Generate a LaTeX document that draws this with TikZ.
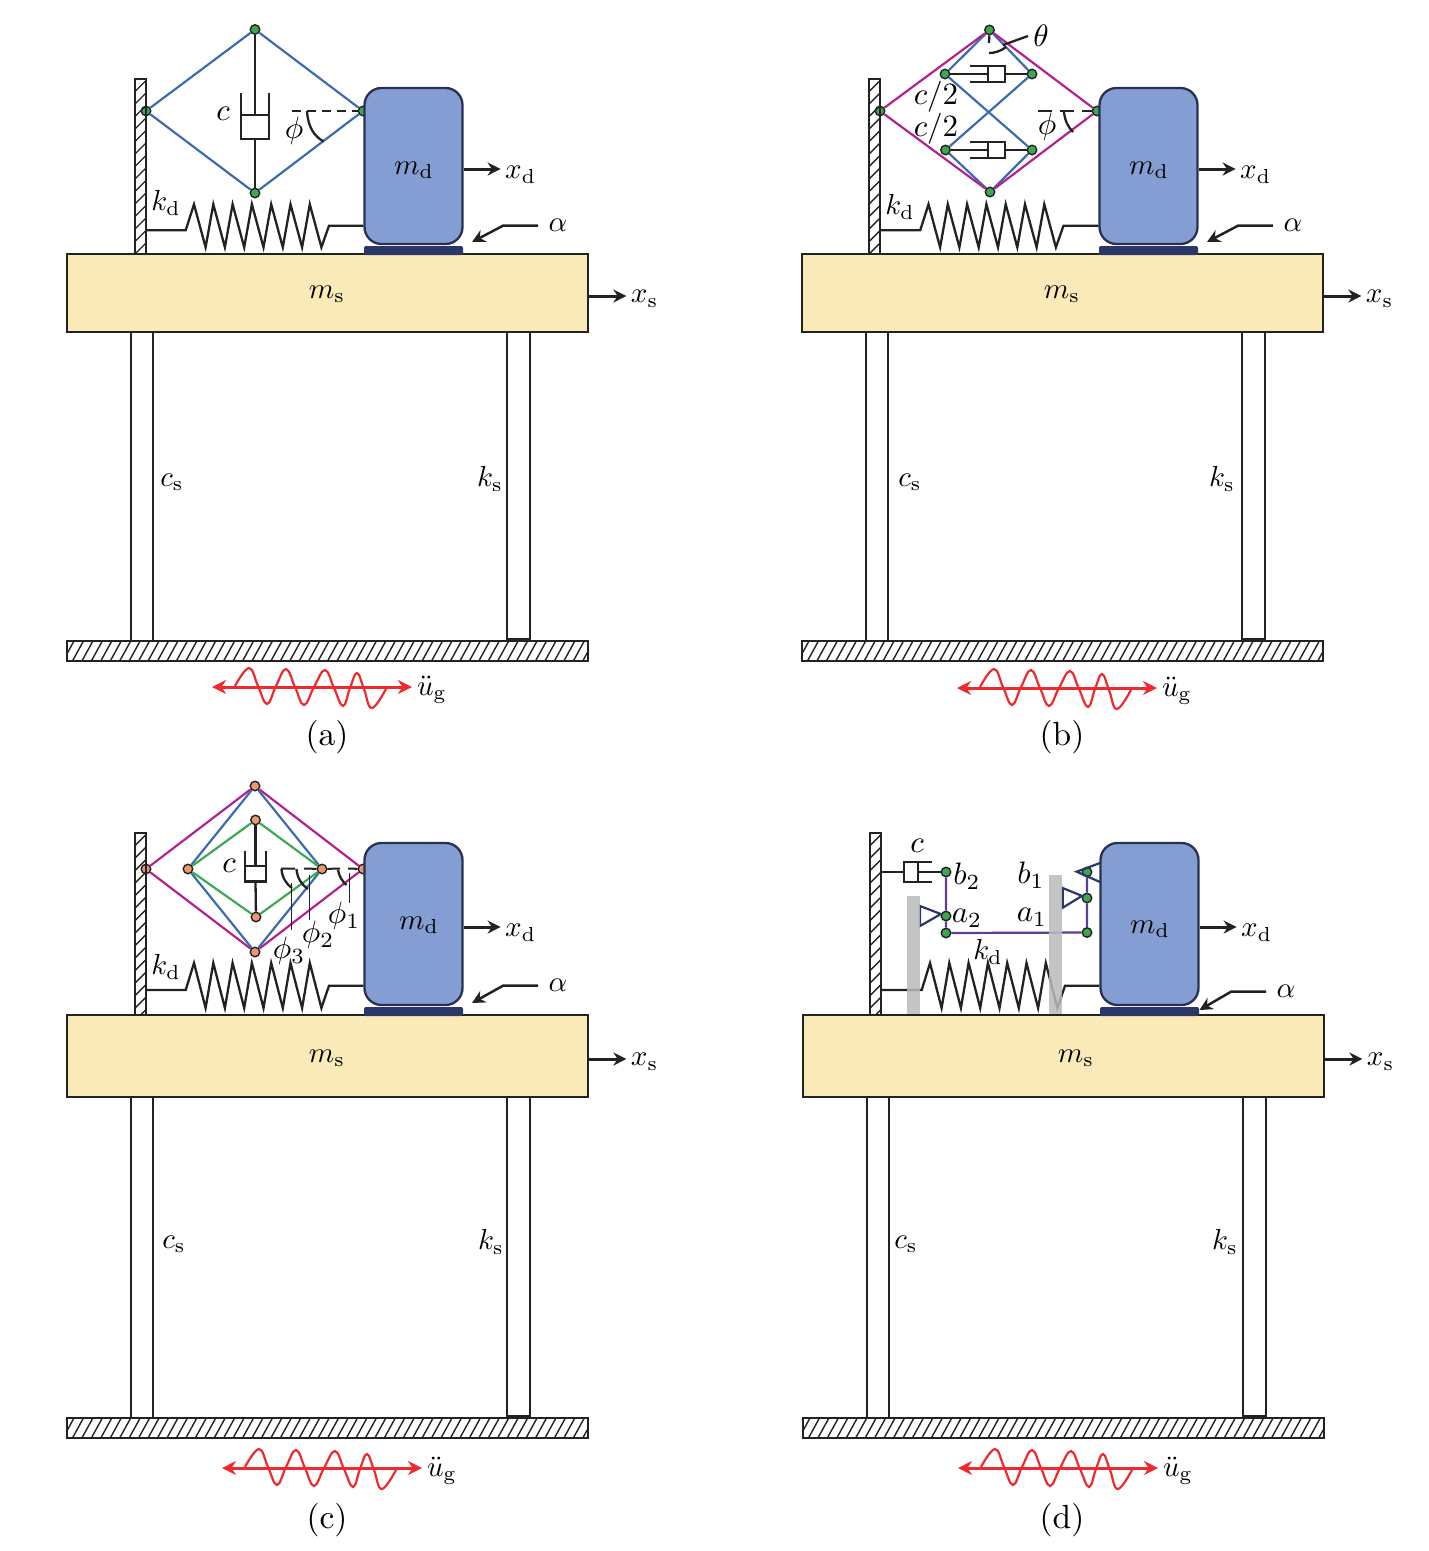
\documentclass[tikz,border=0pt]{standalone}
\usetikzlibrary{arrows.meta,positioning}

\definecolor{inkdark}{HTML}{222222}
\definecolor{massblue}{HTML}{849DD2}
\definecolor{massedge}{HTML}{2A3050}
\definecolor{padnavy}{HTML}{2B3768}
\definecolor{deckyellow}{HTML}{FAEAB8}
\definecolor{linkblue}{HTML}{3B6CB0}
\definecolor{linkmagenta}{HTML}{B5218E}
\definecolor{linkgreen}{HTML}{3DAA4F}
\definecolor{linkpurple}{HTML}{5E3C99}
\definecolor{jointgreen}{HTML}{3FA650}
\definecolor{jointorange}{HTML}{E9986F}
\definecolor{waved}{HTML}{EE2A2E}

\tikzset{
  lab/.style={scale=2.9, transform shape},
  biglab/.style={scale=3.1, transform shape},
  caplab/.style={scale=3.35, transform shape},
  wire/.style={draw=inkdark, line width=2.3pt},
  thinwire/.style={draw=inkdark, line width=1.4pt},
  dashwire/.style={draw=inkdark, line width=2pt, dash pattern=on 9pt off 6pt},
  joint/.style={circle, draw=inkdark, line width=1.4pt, fill=jointgreen, minimum size=9.5pt, inner sep=0pt},
  jointb/.style={joint, fill=jointorange},
  linkb/.style={draw=linkblue, line width=2.2pt},
  linkm/.style={draw=linkmagenta, line width=2.2pt},
  linkg/.style={draw=linkgreen, line width=2.2pt},
  linkp/.style={draw=linkpurple, line width=2.2pt},
  wedge/.style={draw=padnavy, line width=2.2pt},
  motion/.style={draw=inkdark, line width=3pt, -{Stealth[length=13pt,width=13pt]}},
  waveaxis/.style={draw=waved, line width=3pt, {Stealth[length=14pt,width=14pt]}-{Stealth[length=14pt,width=14pt]}},
  wavecurve/.style={draw=waved, line width=2.2pt},
  greybar/.style={fill=black!27, opacity=.85},
}

% wall with hatching: name, x1, y1, x2, y2
\newcommand{\hatchwall}[5]{
  \node[thinwire, minimum width={(#4-#2)*1pt}, minimum height={(#5-#3)*1pt}] (#1wall) at ({(#2+#4)/2},{(#3+#5)/2}) {};
  \begin{scope}
    \clip (#2,#3) rectangle (#4,#5);
    \foreach \k in {1,...,15}
      \draw[thinwire] (#2,{#3+12.5*\k}) -- (#4,{#3+12.5*\k-11});
  \end{scope}
}

% deck, columns, ground, mass: name, dx, deck top, deck bottom, ground top, mass top, mass bottom
\newcommand{\storyframe}[7]{
  \begin{scope}[shift={(#2,0)}]
    \node[wire, fill=deckyellow, minimum width=521.5pt, minimum height={(#4-#3)*1pt}] (#1ms) at (327.5,{(#3+#4)/2}) {};
    \draw[wire] (131,#4) rectangle (153,#5);
    \draw[wire] (507,#4) rectangle (530,{#5-2});
    \node[thinwire, minimum width=521pt, minimum height=20pt] (#1gd) at (327.5,{#5+10}) {};
    \begin{scope}
      \clip (67,#5) rectangle (588,{#5+20});
      \foreach \k in {0,...,55}
        \draw[thinwire] ({67+9.45*\k-4},{#5+20}) -- ({67+9.45*\k+7},#5);
    \end{scope}
    \fill[padnavy, rounded corners=2pt] (364,{#7+2}) rectangle (463,{#3+1});
    \node[draw=massedge, line width=2.3pt, fill=massblue, rounded corners=17pt, minimum width=98pt, minimum height={(#7-#6)*1pt}] (#1md) at (413.5,{(#6+#7)/2}) {};
    \coordinate (#1xd) at ([xshift=37pt,yshift=-3pt]#1md.east);
    \draw[motion] ([yshift=-3pt]#1md.east) -- (#1xd);
    \node[lab, right=4pt of #1xd, yshift=-2pt] (#1xdl) {$x_{\mathrm{d}}$};
    \coordinate (#1xs) at ([xshift=37pt,yshift=-3pt]#1ms.east);
    \draw[motion] ([yshift=-3pt]#1ms.east) -- (#1xs);
    \node[lab, right=4pt of #1xs, yshift=-1pt] (#1xsl) {$x_{\mathrm{s}}$};
  \end{scope}
}

% spring from wall to mass: name, first peak x, y left, y right, y top, y bottom
\newcommand{\zigspring}[6]{
  \coordinate (#1sl) at ({#2-8.3},#3);
  \coordinate (#1sr) at ({#2+135},#4);
  \draw[wire] (#1wall.east |- #1sl) -- (#1sl)
    \foreach \k in {0,...,6} {-- ({#2+19.3*\k},#5) -- ({#2+11.6+19.3*\k},#6)}
    -- (#1sr) -- (#1md.west |- #1sr);
}

% leader to the base pad: name, tip x, tip y, knee x, knee y, end x
\newcommand{\alphamark}[6]{
  \coordinate (#1at) at (#2,#3);
  \coordinate (#1ak) at (#4,#5);
  \coordinate (#1ae) at (#6,#5);
  \draw[motion, line width=2.5pt] (#1ae) -- (#1ak) -- (#1at);
  \node[lab, right=10pt of #1ae] (#1al) {$\alpha$};
}

% ground acceleration: name, shift x, shift y
\newcommand{\groundwave}[3]{
  \begin{scope}[shift={(#2,#3)}]
    \coordinate (#1gl) at (212,687);
    \coordinate (#1gr) at (412,687);
    \draw[waveaxis] (#1gl) -- (#1gr);
    \draw[wavecurve] plot[smooth, tension=.7] coordinates {(235,686) (249,668) (258,686) (267,704) (276,686) (286,669) (295,687) (304,705) (314,687) (325,670) (334,688) (343,706) (350,688) (357,673) (364,689) (372,708) (387,687)};
    \node[lab] (#1gu) at (432,690) {$\ddot{u}_{\mathrm{g}}$};
  \end{scope}
}

% vertical damper: name, x, y top, y piston, y bottom, half width
\newcommand{\cylv}[6]{
  \coordinate (#1p) at (#2,#4);
  \coordinate (#1b) at (#2,#5);
  \draw[wire] ({#2-#6},#3) -- ({#2-#6},#5) -- ({#2+#6},#5) -- ({#2+#6},#3);
  \draw[wire] ({#2-#6},#4) -- ({#2+#6},#4);
}

% horizontal damper: name, x open end, x piston, x closed end, y, half height
\newcommand{\cylh}[6]{
  \coordinate (#1p) at (#3,#5);
  \coordinate (#1b) at (#4,#5);
  \draw[wire] (#2,{#5-#6}) -- (#4,{#5-#6}) -- (#4,{#5+#6}) -- (#2,{#5+#6});
  \draw[wire] (#3,{#5-#6}) -- (#3,{#5+#6});
}

\begin{document}
\begin{tikzpicture}[x=1pt, y=-1pt, every node/.style={inner sep=0pt}]
  \useasboundingbox (0,0) rectangle (1428,1551);

  % (a)
  \node[joint] (atop) at (255,29.5) {};
  \node[joint] (alft) at (146,111) {};
  \node[joint] (abot) at (255,193) {};
  \node[joint] (arig) at (363,111) {};
  \draw[linkb] (atop) -- (alft) -- (abot) -- (arig) -- (atop);
  \cylv{ac}{255}{93}{115}{139}{14}
  \draw[wire] (atop) -- (acp);
  \draw[wire] (acb) -- (abot);
  \draw[dashwire] (292,111) -- (arig);
  \draw[wire] (307,111) .. controls (308,127) and (314,136) .. (323.5,141.5);
  \hatchwall{a}{135}{79}{146}{254}
  \storyframe{a}{0}{254}{332}{641}{88}{244}
  \zigspring{a}{194}{230.3}{225.7}{204.3}{247.3}
  \alphamark{a}{472}{242}{503}{225.7}{538}
  \groundwave{a}{0}{0}
  \node[biglab] (ac) at (223,114) {$c$};
  \node[biglab] (aphi) at (294,131) {$\phi$};
  \node[lab] (akd) at (166,203) {$k_{\mathrm{d}}$};
  \node[lab] (amdl) at (414,170) {$m_{\mathrm{d}}$};
  \node[lab] (amsl) at (327,294) {$m_{\mathrm{s}}$};
  \node[lab] (acs) at (172,482) {$c_{\mathrm{s}}$};
  \node[lab] (aks) at (490,479) {$k_{\mathrm{s}}$};
  \node[caplab] (acap) at (327,737) {(a)};

  % (b)
  \node[joint] (btop) at (989.5,30) {};
  \node[joint] (blft) at (880,111) {};
  \node[joint] (bbot) at (990,192) {};
  \node[joint] (brig) at (1097,111) {};
  \node[joint] (bul) at (945,74) {};
  \node[joint] (bur) at (1032,74) {};
  \node[joint] (bll) at (945.5,150) {};
  \node[joint] (blr) at (1032,150) {};
  \draw[linkb] (btop) -- (bul) -- (blr) -- (bbot) -- (bll) -- (bur) -- (btop);
  \draw[linkm] (btop) -- (blft) -- (bbot) -- (brig) -- (btop);
  \cylh{bd}{970}{988}{1005}{74}{8}
  \cylh{be}{970}{988}{1005}{150}{8}
  \draw[wire] (bul) -- (bdp);
  \draw[wire] (bdb) -- (bur);
  \draw[wire] (bll) -- (bep);
  \draw[wire] (beb) -- (blr);
  \draw[dashwire, dash pattern=on 14pt off 8pt] (1038,111) -- (brig);
  \draw[wire] (1064,112) .. controls (1065,121) and (1068,127) .. (1073,132);
  \coordinate (bty) at (989,43);
  \draw[wire] (btop) -- (bty);
  \draw[wire] (989,53) .. controls (995,53) and (1001,51) .. (1006,47);
  \draw[wire] (1003,45) -- (1028,36);
  \hatchwall{b}{869}{79}{880}{254}
  \storyframe{b}{735}{254}{332}{641}{88}{244}
  \zigspring{b}{928.5}{230.3}{225.7}{204.3}{247.3}
  \alphamark{b}{1207}{242}{1238}{225.7}{1273}
  \groundwave{b}{745}{1}
  \node[biglab] (bth) at (1041,36) {$\theta$};
  \node[biglab] (bc1) at (936,97) {$c/2$};
  \node[biglab] (bc2) at (936,129) {$c/2$};
  \node[biglab] (bphi) at (1047,127) {$\phi$};
  \node[lab] (bkd) at (900,207) {$k_{\mathrm{d}}$};
  \node[lab] (bmdl) at (1149,170) {$m_{\mathrm{d}}$};
  \node[lab] (bmsl) at (1062,294) {$m_{\mathrm{s}}$};
  \node[lab] (bcs) at (910,482) {$c_{\mathrm{s}}$};
  \node[lab] (bks) at (1222,479) {$k_{\mathrm{s}}$};
  \node[caplab] (bcap) at (1062,737) {(b)};

  % (c)
  \node[jointb] (ctop) at (255,786) {};
  \node[jointb] (clft) at (146,869) {};
  \node[jointb] (cbot) at (255,952) {};
  \node[jointb] (crig) at (363,869) {};
  \node[jointb] (cil) at (188,869) {};
  \node[jointb] (cir) at (322,869) {};
  \node[jointb] (cgt) at (255.5,820) {};
  \node[jointb] (cgb) at (256,917) {};
  \draw[linkm] (ctop) -- (clft) -- (cbot) -- (crig) -- (ctop);
  \draw[linkb] (ctop) -- (cil) -- (cbot) -- (cir) -- (ctop);
  \draw[linkg] (cgt) -- (cil) -- (cgb) -- (cir) -- (cgt);
  \cylv{cc}{255.5}{851}{866}{881.5}{10.5}
  \draw[wire] (cgt) -- (ccp);
  \draw[wire] (ccb) -- (cgb);
  \draw[wire, line width=2pt] (281,868.5) -- (295,868.5) (304,868.5) -- (cir);
  \draw[wire, line width=2pt] (cir) -- (340,868.5) (348,868.5) -- (crig);
  \draw[wire] (281.5,869) .. controls (282,877) and (286,884) .. (292,888);
  \draw[wire] (296.5,869) .. controls (297,878) and (302,885) .. (308,889);
  \draw[wire] (338,870) .. controls (339,876) and (342,881) .. (346.5,885);
  \draw[thinwire] (291.7,883) -- (291.7,930);
  \draw[thinwire] (309.3,875) -- (309.3,920);
  \draw[thinwire] (349.3,873) -- (349.3,903);
  \hatchwall{c}{135}{833}{146}{1015}
  \storyframe{c}{0}{1015}{1097}{1418}{843}{1005}
  \zigspring{c}{194}{990}{985.7}{963}{1008}
  \alphamark{c}{472}{1003}{503}{985.7}{538}
  \groundwave{c}{10}{781}
  \node[biglab] (cc) at (229,866) {$c$};
  \node[biglab] (cp3) at (289,951) {$\phi_{3}$};
  \node[biglab] (cp2) at (318,935) {$\phi_{2}$};
  \node[biglab] (cp1) at (344,916) {$\phi_{1}$};
  \node[lab] (ckd) at (166,967) {$k_{\mathrm{d}}$};
  \node[lab] (cmdl) at (419,925) {$m_{\mathrm{d}}$};
  \node[lab] (cmsl) at (327,1058) {$m_{\mathrm{s}}$};
  \node[lab] (ccs) at (174,1244) {$c_{\mathrm{s}}$};
  \node[lab] (cks) at (491,1242) {$k_{\mathrm{s}}$};
  \node[caplab] (ccap) at (327,1520) {(c)};

  % (d)
  \hatchwall{d}{870}{833}{881}{1015}
  \storyframe{d}{736}{1015}{1097}{1418}{843}{1005}
  \node[joint] (db2) at (946,872) {};
  \node[joint] (da2) at (946,916) {};
  \node[joint] (dbl) at (946,933) {};
  \node[joint] (dbr) at (1087,932.5) {};
  \node[joint] (da1) at (1087,898) {};
  \node[joint] (db1) at (1087,872) {};
  \draw[linkp] (db2) -- (da2) -- (dbl) -- (dbr) -- (da1) -- (db1);
  \cylh{dc}{932}{918}{904}{872}{10}
  \draw[wire] (dcp) -- (db2);
  \draw[wire] (dwall.east |- dcb) -- (dcb);
  \draw[wedge] (da2) -- (920,906) -- (920,926) -- cycle;
  \draw[wedge] (da1) -- (1062.7,888) -- (1062.7,907.7) -- cycle;
  \draw[wedge] (1100,863) -- (1076.7,871.7) -- (1100,882);
  \zigspring{d}{930}{990}{985.7}{963}{1008}
  \fill[greybar] (907.3,896) rectangle (920,1014);
  \fill[greybar] (1049.3,875) rectangle (1061.7,1014);
  \alphamark{d}{1199.5}{1010}{1231}{991.7}{1266}
  \groundwave{d}{746}{781}
  \node[biglab] (dc) at (917,846) {$c$};
  \node[biglab] (dlb2) at (967,876) {$b_{2}$};
  \node[biglab] (dla2) at (967,918) {$a_{2}$};
  \node[biglab] (dlb1) at (1031,875) {$b_{1}$};
  \node[biglab] (dla1) at (1032,917) {$a_{1}$};
  \node[lab] (dkd) at (988,952) {$k_{\mathrm{d}}$};
  \node[lab] (dmdl) at (1150,929) {$m_{\mathrm{d}}$};
  \node[lab] (dmsl) at (1076,1058) {$m_{\mathrm{s}}$};
  \node[lab] (dcs) at (906,1244) {$c_{\mathrm{s}}$};
  \node[lab] (dks) at (1225,1242) {$k_{\mathrm{s}}$};
  \node[caplab] (dcap) at (1062,1520) {(d)};
\end{tikzpicture}
\end{document}
